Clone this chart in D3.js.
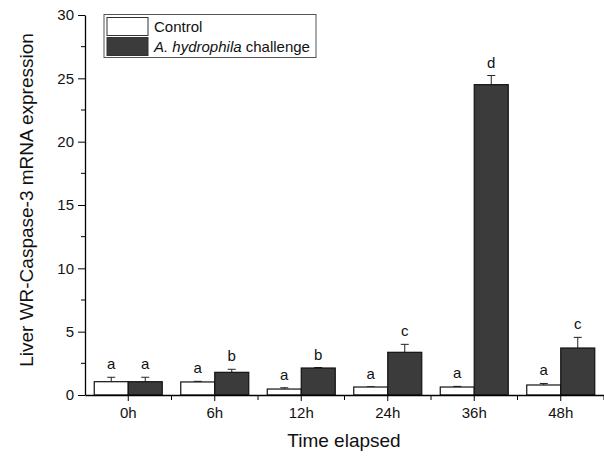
<!DOCTYPE html>
<html>
<head>
<meta charset="utf-8">
<script src="https://cdn.jsdelivr.net/npm/d3@7"></script>
<style>
  body { margin: 0; background: #fff; }
  text { font-family: "Liberation Sans", Arial, sans-serif; fill: #111; }
</style>
</head>
<body>
<svg id="chart" width="604" height="456"></svg>
<script>
// data
const times = ["0h", "6h", "12h", "24h", "36h", "48h"];
const controlMean = [1.05, 1.03, 0.47, 0.63, 0.63, 0.79];
const controlErr = [0.35, 0.05, 0.10, 0.02, 0.05, 0.12];
const challengeMean = [1.05, 1.79, 2.13, 3.37, 24.5, 3.71];
const challengeErr = [0.35, 0.24, 0.04, 0.63, 0.72, 0.84];
const controlLetters = ["a", "a", "a", "a", "a", "a"];
const challengeLetters = ["a", "b", "b", "c", "d", "c"];
const seriesNames = ["Control", "A. hydrophila challenge"];
const yTicks = [0, 5, 10, 15, 20, 25, 30];

const svg = d3.select("#chart");
const plotL = 85, plotR = 604, plotT = 15, plotB = 395;

const x = d3.scaleBand().domain(times).range([plotL, plotR]).padding(0);
const y = d3.scaleLinear().domain([0, 30]).range([plotB, plotT]);
const barW = 34;

const rows = [];
times.forEach((t, i) => {
  rows.push({ t, k: 0, v: controlMean[i], e: controlErr[i], l: controlLetters[i] });
  rows.push({ t, k: 1, v: challengeMean[i], e: challengeErr[i], l: challengeLetters[i] });
});
const cx = d => x(d.t) + x.bandwidth() / 2 + (d.k === 0 ? -barW : 0);
const fills = ["#ffffff", "#3b3b3b"];

// error bars (upper only)
const eb = svg.append("g").attr("stroke", "#222").attr("stroke-width", 1);
rows.forEach(d => {
  const mx = cx(d) + barW / 2;
  eb.append("line").attr("x1", mx).attr("x2", mx).attr("y1", y(d.v)).attr("y2", y(d.v + d.e));
  eb.append("line").attr("x1", mx - 4).attr("x2", mx + 4).attr("y1", y(d.v + d.e)).attr("y2", y(d.v + d.e));
});

svg.append("g").selectAll("rect").data(rows).join("rect")
  .attr("x", cx)
  .attr("y", d => y(d.v))
  .attr("width", barW)
  .attr("height", d => y(0) - y(d.v))
  .attr("fill", d => fills[d.k])
  .attr("stroke", "#111")
  .attr("stroke-width", 1.2);

// significance letters
svg.append("g").selectAll("text").data(rows).join("text")
  .attr("x", d => cx(d) + barW / 2)
  .attr("y", d => y(d.v + d.e) - 8)
  .attr("text-anchor", "middle")
  .attr("font-size", 15)
  .text(d => d.l);

// y axis
const yAxis = d3.axisLeft(y).tickValues(yTicks).tickSize(7).tickPadding(4).tickSizeOuter(0);
const gy = svg.append("g").attr("transform", `translate(${plotL},0)`).call(yAxis);
gy.selectAll("text").attr("font-size", 15);
gy.append("g").selectAll("line").data(d3.range(2.5, 30, 5)).join("line")
  .attr("x1", -4).attr("x2", 0).attr("y1", d => y(d)).attr("y2", d => y(d))
  .attr("stroke", "#000");

// x axis
const xAxis = d3.axisBottom(x).tickSize(6).tickPadding(6).tickSizeOuter(0);
const gx = svg.append("g").attr("transform", `translate(0,${plotB})`).call(xAxis);
gx.selectAll("text").attr("font-size", 15);
gx.append("g").selectAll("line").data(times).join("line")
  .attr("x1", d => x(d) + x.bandwidth())
  .attr("x2", d => x(d) + x.bandwidth())
  .attr("y1", 0).attr("y2", 5)
  .attr("stroke", "#000");
svg.selectAll(".domain").attr("stroke", "#000").attr("stroke-width", 1.3);

// axis titles
svg.append("text")
  .attr("transform", `translate(33,200) rotate(-90)`)
  .attr("text-anchor", "middle")
  .attr("font-size", 19)
  .text("Liver WR-Caspase-3 mRNA expression");
svg.append("text")
  .attr("x", 344)
  .attr("y", 447)
  .attr("text-anchor", "middle")
  .attr("font-size", 19)
  .text("Time elapsed");

// legend
const lg = svg.append("g");
lg.append("rect").attr("x", 104).attr("y", 14.5).attr("width", 212).attr("height", 43)
  .attr("fill", "#fff").attr("stroke", "#555").attr("stroke-width", 1);
seriesNames.forEach((name, i) => {
  lg.append("rect").attr("x", 107).attr("y", 17.5 + i * 20).attr("width", 41).attr("height", 18)
    .attr("fill", fills[i]).attr("stroke", "#333");
  const t = lg.append("text").attr("x", 154).attr("y", 32 + i * 20).attr("font-size", 15);
  if (i === 1) {
    t.append("tspan").attr("font-style", "italic").text("A. hydrophila");
    t.append("tspan").text(" challenge");
  } else {
    t.text(name);
  }
});
</script>
</body>
</html>
